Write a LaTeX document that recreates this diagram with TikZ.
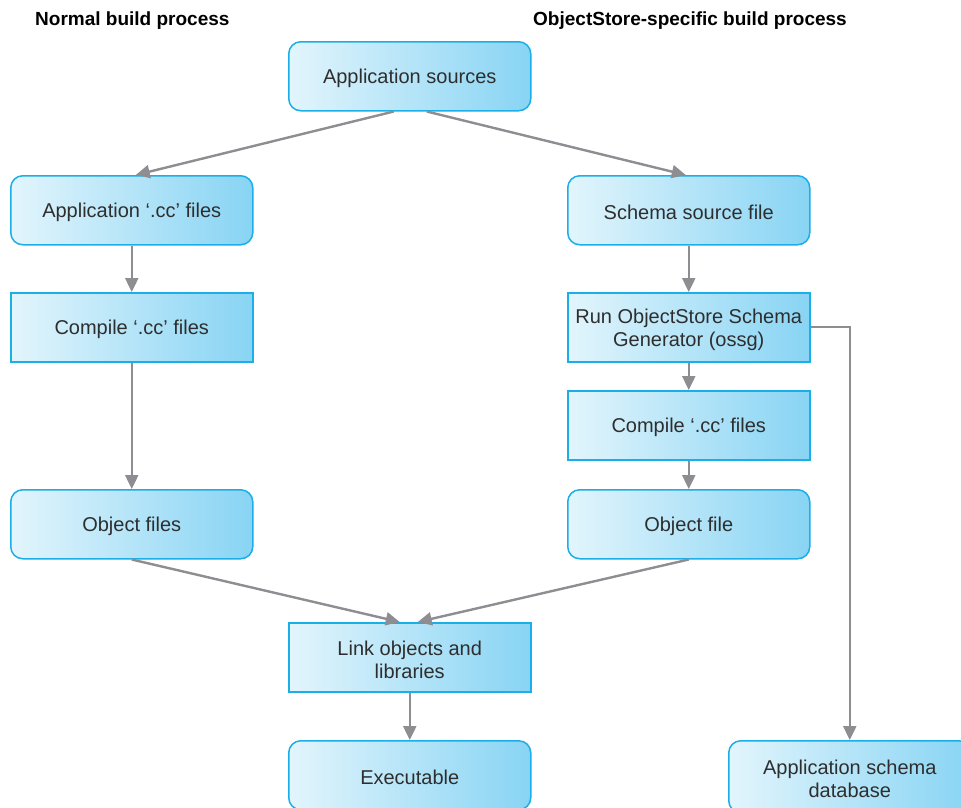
\documentclass[tikz,border=0pt]{standalone}
\usepackage{fontspec}
\setmainfont{Liberation Sans}
\usetikzlibrary{arrows.meta,calc}
\definecolor{boxleft}{HTML}{E2F5FC}
\definecolor{boxright}{HTML}{88D4F4}
\definecolor{boxline}{HTML}{1CAEE6}
\definecolor{arrowgrey}{HTML}{8E8E92}
\definecolor{txt}{HTML}{2E2E2E}
\tikzset{
  sqbox/.style={draw=boxline, line width=1.5pt, left color=boxleft, right color=boxright,
    minimum width=242pt, minimum height=69pt, inner sep=0pt, anchor=north west},
  rndbox/.style={sqbox, rounded corners=12pt},
  boxtext/.style={label={[text=txt, align=center, inner sep=0pt, yshift=-2.5pt,
    font=\fontsize{20}{23}\selectfont]center:{#1}}},
  flow/.style={draw=arrowgrey, line width=2.4pt, -{Triangle[length=14pt,width=13pt]}},
  title/.style={font=\fontsize{19}{22}\selectfont\bfseries, text=black, anchor=base west, inner sep=0pt}
}
\begin{document}
\begin{tikzpicture}[x=1pt,y=-1pt]
\useasboundingbox (0,0) rectangle (961,807);
\clip (0,0) rectangle (961,807);
\node[title] (t1) at (35,25) {Normal build process};
\node[title] (t2) at (533,25) {ObjectStore-specific build process};

\node[rndbox, boxtext={Application sources}] (src) at (288,41) {};
\node[rndbox, boxtext={Application ‘.cc’ files}] (appcc) at (10,175) {};
\node[rndbox, boxtext={Schema source file}] (schema) at (567,175) {};
\node[sqbox, boxtext={Compile ‘.cc’ files}] (compl) at (10,292) {};
\node[sqbox, boxtext={Run ObjectStore Schema\\Generator (ossg)}] (run) at (567,292) {};
\node[sqbox, boxtext={Compile ‘.cc’ files}] (compr) at (567,390) {};
\node[rndbox, boxtext={Object files}] (objs) at (10,489) {};
\node[rndbox, boxtext={Object file}] (obj) at (567,489) {};
\node[sqbox, boxtext={Link objects and\\libraries}] (link) at (288,622) {};
\node[rndbox, boxtext={Executable}] (exe) at (288,740) {};
\node[rndbox, minimum height=72pt, boxtext={Application schema\\database}] (db) at (728,740) {};

\draw[flow] ($(src.south)+(-16,0)$) -- ($(appcc.north)+(4,0)$);
\draw[flow] ($(src.south)+(17,0)$) -- ($(schema.north)+(-3,0)$);
\draw[flow] (appcc) -- (compl);
\draw[flow] (compl) -- (objs);
\draw[flow] (schema) -- (run);
\draw[flow] (run) -- (compr);
\draw[flow] (compr) -- (obj);
\draw[flow] (objs.south) -- ($(link.north)+(-10,0)$);
\draw[flow] (obj.south) -- ($(link.north)+(8,0)$);
\draw[flow] (link) -- (exe);
\draw[flow] (run.east) -| (db.north);
\end{tikzpicture}
\end{document}
